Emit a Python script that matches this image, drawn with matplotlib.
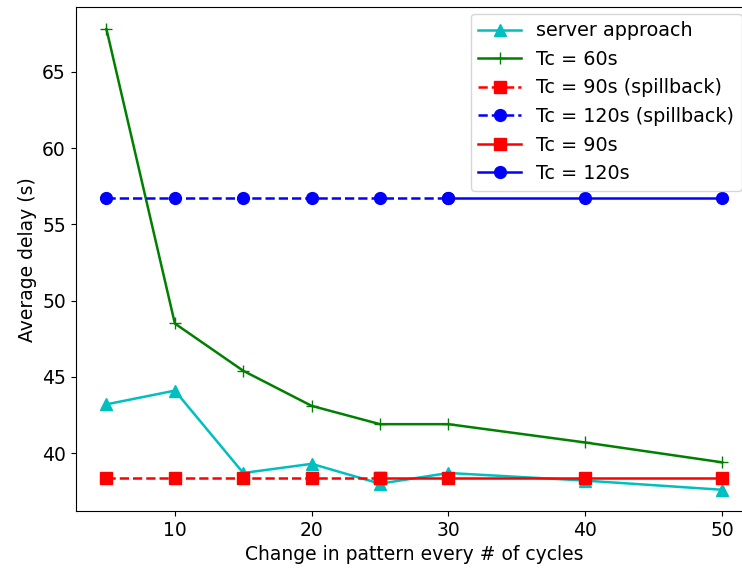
import matplotlib
matplotlib.use("Agg")
import matplotlib.pyplot as plt

# Pattern change period (cycles)
periods = [5, 10, 15, 20, 25, 30, 40, 50]

server_delay = [43.2, 44.1, 38.7, 39.3, 38.0, 38.7, 38.2, 37.6]
tc60_delay = [67.8, 48.5, 45.4, 43.1, 41.9, 41.9, 40.7, 39.4]

# Fixed-cycle plans: spillback regime for short periods, normal afterwards
tc90_spill_periods = [5, 10, 15, 20, 25]
tc90_spill_delay = [38.4, 38.4, 38.4, 38.4, 38.4]
tc120_spill_periods = [5, 10, 15, 20, 25, 30]
tc120_spill_delay = [56.75, 56.75, 56.75, 56.75, 56.75, 56.75]
tc90_periods = [25, 30, 40, 50]
tc90_delay = [38.4, 38.4, 38.4, 38.4]
tc120_periods = [30, 40, 50]
tc120_delay = [56.75, 56.75, 56.75]

plt.rcParams["font.size"] = 13.5

fig = plt.figure(figsize=(7.42, 5.73), dpi=100)
# the plot area runs slightly past the right edge of the canvas
ax = fig.add_axes([0.102, 0.108, 0.9125, 0.879])

lw = 1.8
ms = 8.5
ax.plot(periods, server_delay, color="c", marker="^", lw=lw, ms=ms, label="server approach")
ax.plot(periods, tc60_delay, color="g", marker="+", lw=lw, ms=8, label="Tc = 60s")
ax.plot(tc90_spill_periods, tc90_spill_delay, color="r", ls="--", marker="s", lw=lw, ms=ms,
        label="Tc = 90s (spillback)")
ax.plot(tc120_spill_periods, tc120_spill_delay, color="b", ls="--", marker="o", lw=lw, ms=ms,
        label="Tc = 120s (spillback)")
ax.plot(tc90_periods, tc90_delay, color="r", marker="s", lw=lw, ms=ms, label="Tc = 90s")
ax.plot(tc120_periods, tc120_delay, color="b", marker="o", lw=lw, ms=ms, label="Tc = 120s")

ax.set_xlim(2.75, 52.25)
ax.set_ylim(36.2, 69.22)
ax.set_xticks([10, 20, 30, 40, 50])
ax.set_yticks([40, 45, 50, 55, 60, 65])
ax.set_xlabel("Change in pattern every # of cycles")
ax.set_ylabel("Average delay (s)")
ax.legend(loc="upper right", bbox_to_anchor=(0.9926, 1.0), borderaxespad=0.32,
          handlelength=2.2, fontsize=13.8)

fig.savefig("out.png", dpi=100)
